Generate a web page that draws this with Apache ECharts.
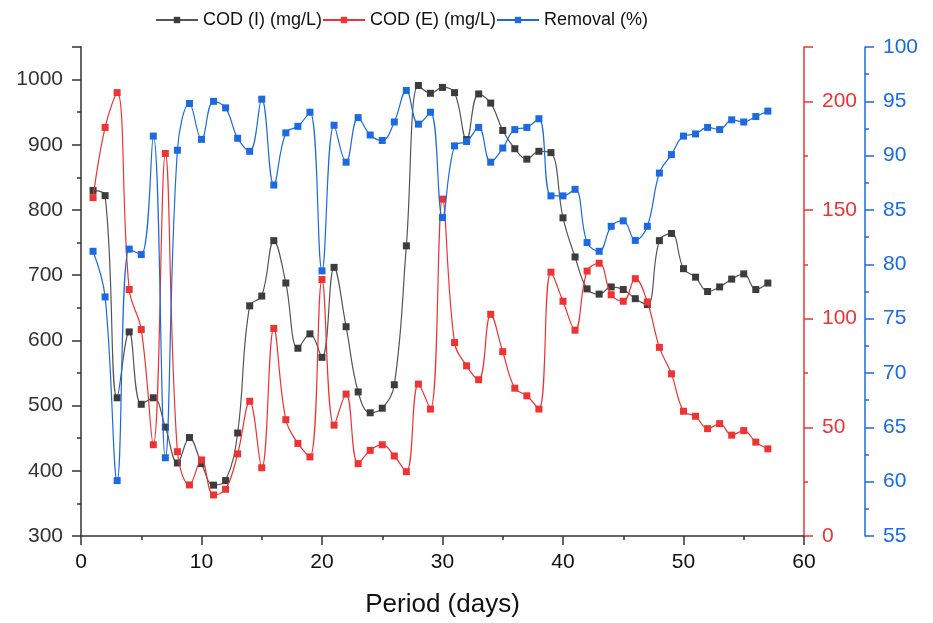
<!DOCTYPE html>
<html>
<head>
<meta charset="utf-8">
<script src="https://cdn.jsdelivr.net/npm/echarts@6/dist/echarts.min.js"></script>
<style>html,body{margin:0;padding:0;background:#fff}#c{width:933px;height:623px}</style>
</head>
<body>
<div id="c"></div>
<script>
const days = [1,2,3,4,5,6,7,8,9,10,11,12,13,14,15,16,17,18,19,20,21,22,23,24,25,26,27,28,29,30,31,32,33,34,35,36,37,38,39,40,41,42,43,44,45,46,47,48,49,50,51,52,53,54,55,56,57];
const codInfluent = [830,822,512,613,502,512,467,412,451,411,378,385,458,653,668,753,688,588,610,574,712,621,521,489,496,532,745,991,979,988,980,908,978,964,922,894,878,890,888,788,728,679,671,682,678,664,655,753,764,710,697,675,682,694,702,678,688];
const codEffluent = [155.7,188,204,113.4,95,42,176,38.8,23.5,35,18.9,21.5,37.8,62,31.4,95.5,53.5,42.6,36.4,118,51,65.3,33.3,39.4,42,36.8,29.6,69.9,58.4,155,89,78.3,71.9,102,84.8,68,64.5,58.4,121.4,108,94.7,121.9,125.5,111,108,118.4,107.7,86.8,74.6,57.4,55.1,49.4,51.7,46.4,48.5,43.2,40.1];
const removal = [81.2,77.0,60.1,81.4,80.9,91.8,62.2,90.5,94.8,91.5,95.0,94.4,91.6,90.4,95.2,87.3,92.1,92.7,94.0,79.4,92.8,89.4,93.5,91.9,91.4,93.1,96.0,92.9,94.0,84.3,90.9,91.3,92.6,89.4,90.7,92.4,92.6,93.4,86.3,86.3,86.9,82.0,81.2,83.5,84.0,82.2,83.5,88.4,90.1,91.8,92.0,92.6,92.4,93.3,93.1,93.6,94.1];
const seriesNames = ['COD (I) (mg/L)','COD (E) (mg/L)','Removal (%)'];

const BLACK = '#3c3c3c', RED = '#ee3333', BLUE = '#1c6ae0';
const FONT = 'Liberation Sans, Arial, sans-serif';
const pair = arr => arr.map((v,i)=>[days[i], v]);

function yAxisBase(color, pos, min, max, interval, offset, showMax) {
  return {
    type:'value', position:pos, min:min, max:max, interval:interval, offset:offset,
    axisLine:{show:true, onZero:false, lineStyle:{color:color, width:1.5}},
    axisTick:{show:true, inside:false, length:9, lineStyle:{color:color, width:1.5}},
    minorTick:{show:true, splitNumber:2, length:4, lineStyle:{color:color, width:1.5}},
    splitLine:{show:false}, minorSplitLine:{show:false},
    axisLabel:{color:color, fontSize:21, fontFamily:FONT, margin:18, showMaxLabel:showMax,
      formatter: v => String(v)}
  };
}

const chart = echarts.init(document.getElementById('c'), null, {renderer:'canvas'});
chart.setOption({
  animation:false,
  backgroundColor:'#fff',
  legend:{
    data:seriesNames, top:6, left:150, itemGap:0, itemWidth:42, itemHeight:8,
    textStyle:{fontSize:18, fontFamily:FONT, color:'#111'}
  },
  grid:{left:81, right:129, top:47, bottom:86, containLabel:false},
  xAxis:{
    type:'value', min:0, max:60, interval:10,
    name:'Period (days)', nameLocation:'middle', nameGap:56,
    nameTextStyle:{fontSize:26, fontFamily:FONT, color:'#111'},
    axisLine:{show:true, onZero:false, lineStyle:{color:'#333', width:1.5}},
    axisTick:{show:true, length:9, lineStyle:{color:'#333', width:1.5}},
    minorTick:{show:true, splitNumber:2, length:4, lineStyle:{color:'#333', width:1.5}},
    splitLine:{show:false},
    axisLabel:{color:'#111', fontSize:21, fontFamily:FONT, margin:16}
  },
  yAxis:[
    yAxisBase('#333','left',300,1050,100,0,false),
    yAxisBase(RED,'right',0,225,50,0,false),
    yAxisBase(BLUE,'right',55,100,5,61,true)
  ],
  series:[
    {name:seriesNames[0], type:'line', yAxisIndex:0, data:pair(codInfluent), smooth:0.4,
     symbol:'rect', symbolSize:7, showSymbol:true,
     lineStyle:{color:'#555', width:1.2}, itemStyle:{color:BLACK}, z:3},
    {name:seriesNames[1], type:'line', yAxisIndex:1, data:pair(codEffluent), smooth:0.4,
     symbol:'rect', symbolSize:7, showSymbol:true,
     lineStyle:{color:RED, width:1.2}, itemStyle:{color:RED}, z:4},
    {name:seriesNames[2], type:'line', yAxisIndex:2, data:pair(removal), smooth:0.4,
     symbol:'rect', symbolSize:7, showSymbol:true,
     lineStyle:{color:BLUE, width:1.2}, itemStyle:{color:BLUE}, z:5}
  ]
});
</script>
</body>
</html>
